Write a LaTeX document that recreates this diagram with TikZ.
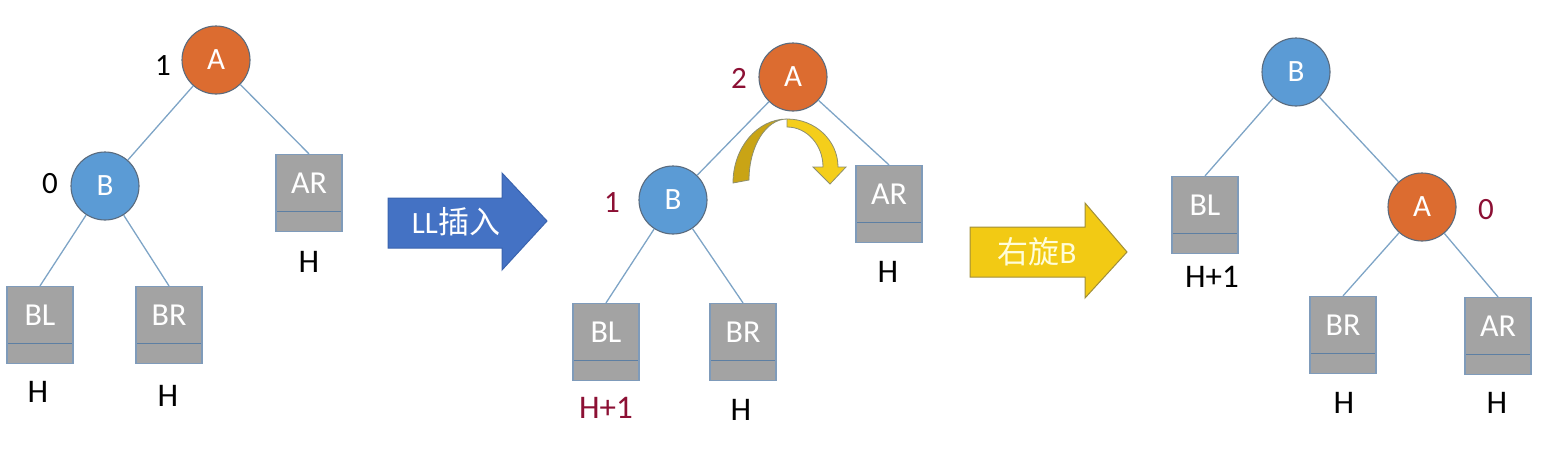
\documentclass[tikz,border=0pt]{standalone}
\usepackage{fontspec}
\setmainfont{Carlito}
\newfontfamily\cjk{Noto Sans CJK SC}
\usetikzlibrary{calc}
\definecolor{clOrange}{HTML}{DC6C30}
\definecolor{clBlue}{HTML}{5B9BD5}
\definecolor{clRing}{HTML}{5A6B7E}
\definecolor{clBox}{HTML}{A3A3A3}
\definecolor{clBoxLine}{HTML}{7F9BBA}
\definecolor{clDivider}{HTML}{5D7FA3}
\definecolor{clEdge}{HTML}{7EA4C6}
\definecolor{clRed}{HTML}{8C1034}
\definecolor{clArrowBlue}{HTML}{4472C4}
\definecolor{clArrowBlueLine}{HTML}{3A63AE}
\definecolor{clArrowYellow}{HTML}{F2CA14}
\definecolor{clArrowYellowLine}{HTML}{A08E3A}
\definecolor{clGoldDark}{HTML}{C9A415}
\definecolor{clGoldLight}{HTML}{F4CE1B}
\definecolor{clGoldLine}{HTML}{8D8F70}
\tikzset{
  vertex/.style={circle, draw=clRing, line width=1.1pt, minimum size=68pt,
                 inner sep=0pt, text=white, font=\fontsize{31}{31}\selectfont},
  nodeA/.style={vertex, fill=clOrange},
  nodeB/.style={vertex, fill=clBlue},
  subtree/.style={rectangle, draw=clBoxLine, fill=clBox, line width=1.2pt,
                  minimum width=66pt, minimum height=77pt, text=white,
                  text height=1pt, text depth=0pt, inner sep=0pt,
                  font=\fontsize{32}{32}\selectfont,
                  path picture={\draw[clDivider, line width=1.6pt]
                    ([yshift=20pt]path picture bounding box.south west) --
                    ([yshift=20pt]path picture bounding box.south east);}},
  link/.style={draw=clEdge, line width=1.3pt},
  height/.style={font=\fontsize{33}{33}\selectfont, inner sep=0pt},
  balance/.style={font=\fontsize{31}{31}\selectfont, inner sep=0pt},
  hot/.style={text=clRed},
  steptext/.style={font=\fontsize{31}{31}\selectfont, inner sep=0pt},
}
\begin{document}
\begin{tikzpicture}[x=1pt, y=-1pt]
  \useasboundingbox (0,0) rectangle (1555,453);

  % before insertion
  \node[nodeA] (a1) at (216,60) {A};
  \node[nodeB] (b1) at (105,186) {B};
  \node[subtree] (ar1) at (309,193) {AR};
  \node[subtree] (bl1) at (40,325) {BL};
  \node[subtree] (br1) at (169,325) {BR};
  \node[balance] (fa1) at (163,66) {1};
  \node[balance] (fb1) at (50,184) {0};
  \node[height] (har1) at (309,262) {H};
  \node[height] (hbl1) at (38,392) {H};
  \node[height] (hbr1) at (168,396) {H};
  \draw[link] (a1) -- (b1);
  \draw[link] (a1) -- (ar1.north);
  \draw[link] (b1) -- (bl1.north);
  \draw[link] (b1) -- (br1.north);

  % LL insert arrow
  \fill[clArrowBlue, draw=clArrowBlueLine, line width=1pt]
    (388,198) -- (502,198) -- (502,173) -- (547,221) -- (502,270)
    -- (502,248) -- (388,248) -- cycle;
  \node[steptext, text=white] (ll) at (456,222) {LL{\cjk 插入}};

  % after insertion
  \node[nodeA] (a2) at (793,77) {A};
  \node[nodeB] (b2) at (673,200) {B};
  \node[subtree] (ar2) at (889,204) {AR};
  \node[subtree] (bl2) at (606,342) {BL};
  \node[subtree] (br2) at (743,342) {BR};
  \node[balance, hot] (fa2) at (739,78) {2};
  \node[balance, hot] (fb2) at (612,203) {1};
  \node[height] (har2) at (888,272) {H};
  \node[height, hot] (hbl2) at (606,408) {H+1};
  \node[height] (hbr2) at (741,410) {H};
  \draw[link] (a2) -- (b2);
  \draw[link] (a2) -- (ar2.north);
  \draw[link] (b2) -- (bl2.north);
  \draw[link] (b2) -- (br2.north);

  % rotation hint
  \fill[clGoldDark, draw=clGoldLine, line width=0.8pt]
    (733,183) arc[start angle=180, end angle=270, x radius=54, y radius=64]
    arc[start angle=270, end angle=180, x radius=38, y radius=61] -- cycle;
  \fill[clGoldLight, draw=clGoldLine, line width=0.8pt]
    (787,119) arc[start angle=270, end angle=360, x radius=51, y radius=48]
    -- (846,167) -- (830,184) -- (813,167) -- (823,167)
    arc[start angle=360, end angle=270, x radius=36, y radius=40] -- cycle;

  % right rotation arrow
  \fill[clArrowYellow, draw=clArrowYellowLine, line width=1pt]
    (970,227) -- (1085,227) -- (1085,203) -- (1127,252) -- (1085,298)
    -- (1085,277) -- (970,277) -- cycle;
  \node[steptext, text=yellow!15] (rot) at (1037,252) {{\cjk 右旋}B};

  % after rotation
  \node[nodeB] (b3) at (1296,72) {B};
  \node[nodeA] (a3) at (1422,207) {A};
  \node[subtree] (bl3) at (1205,215) {BL};
  \node[subtree] (br3) at (1343,335) {BR};
  \node[subtree] (ar3) at (1498,336) {AR};
  \node[balance, hot] (fa3) at (1486,210) {0};
  \node[height] (hbl3) at (1212,277) {H+1};
  \node[height] (hbr3) at (1344,403) {H};
  \node[height] (har3) at (1497,403) {H};
  \draw[link] (b3) -- (bl3.north);
  \draw[link] (b3) -- (a3);
  \draw[link] (a3) -- (br3.north);
  \draw[link] (a3) -- (ar3.north);
\end{tikzpicture}
\end{document}
